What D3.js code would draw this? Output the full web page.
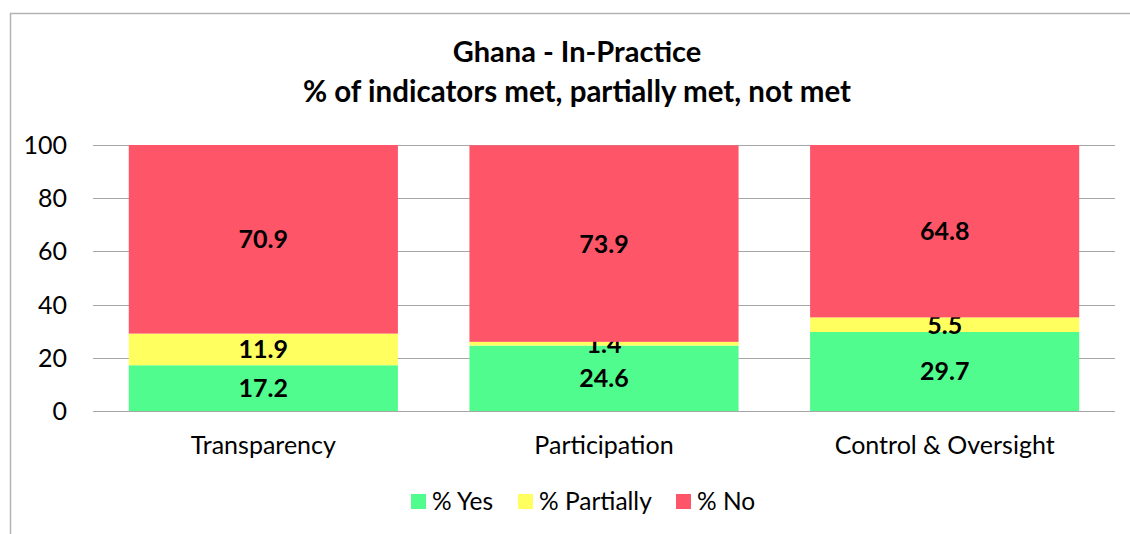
<!DOCTYPE html>
<html>
<head>
<meta charset="utf-8">
<script src="https://cdn.jsdelivr.net/npm/d3@7"></script>
<style>
  body { margin: 0; background: #fff; }
  svg { font-family: Lato, "Open Sans", sans-serif; }
</style>
</head>
<body>
<div id="chart"></div>
<script>
const categories = ['Transparency', 'Participation', 'Control & Oversight'];
const yesValues = [17.2, 24.6, 29.7];
const partialValues = [11.9, 1.4, 5.5];
const noValues = [70.9, 73.9, 64.8];
const seriesNames = ['% Yes', '% Partially', '% No'];
const seriesColors = ['#50fc8e', '#ffff5f', '#ff5568'];
const yTicks = [0, 20, 40, 60, 80, 100];

const width = 1130;
const height = 534;

const svg = d3.select('#chart')
  .append('svg')
    .attr('width', width)
    .attr('height', height);

// chart frame
svg.append('rect')
  .attr('x', 10.5).attr('y', 13.5)
  .attr('width', 1140).attr('height', 540)
  .attr('fill', 'none')
  .attr('stroke', '#b4b4b4')
  .attr('stroke-width', 1.5);

svg.append('text')
  .attr('x', 577).attr('y', 62)
  .attr('text-anchor', 'middle')
  .style('font-size', '29px').style('font-weight', 'bold')
  .text('Ghana - In-Practice');
svg.append('text')
  .attr('x', 577).attr('y', 102)
  .attr('text-anchor', 'middle')
  .style('font-size', '29.5px').style('font-weight', 'bold')
  .text('% of indicators met, partially met, not met');

const x = d3.scaleBand()
  .domain(categories)
  .range([93, 1115])
  .paddingInner(0.21)
  .paddingOuter(0.105);

const y = d3.scaleLinear()
  .domain([0, 100])
  .range([411, 145]);

// gridlines
svg.append('g')
  .selectAll('line')
  .data(yTicks)
  .enter()
  .append('line')
    .attr('x1', 93).attr('x2', 1115)
    .attr('y1', d => Math.round(y(d)) + 0.5)
    .attr('y2', d => Math.round(y(d)) + 0.5)
    .attr('stroke', '#a6a6a6')
    .attr('stroke-width', 1.2);

svg.append('g')
  .selectAll('text')
  .data(yTicks)
  .enter()
  .append('text')
    .attr('x', 67)
    .attr('y', d => y(d))
    .attr('dy', '0.36em')
    .attr('text-anchor', 'end')
    .style('font-size', '25px')
    .text(d => d);

const rows = categories.map((c, i) => ({
  category: c, yes: yesValues[i], partial: partialValues[i], no: noValues[i]
}));
const stack = d3.stack().keys(['yes', 'partial', 'no'])(rows);

const layers = svg.append('g')
  .selectAll('g')
  .data(stack)
  .enter()
  .append('g')
    .attr('fill', (d, i) => seriesColors[i]);

layers.selectAll('rect')
  .data(d => d)
  .enter()
  .append('rect')
    .attr('x', d => x(d.data.category))
    .attr('width', x.bandwidth())
    .attr('y', d => y(d[1]))
    .attr('height', d => y(d[0]) - y(d[1]));

layers.selectAll('text')
  .data(d => d)
  .enter()
  .append('text')
    .attr('x', d => x(d.data.category) + x.bandwidth() / 2)
    .attr('y', d => (y(d[0]) + y(d[1])) / 2)
    .attr('dy', '0.36em')
    .attr('text-anchor', 'middle')
    .attr('fill', '#000')
    .style('font-size', '25px').style('font-weight', 'bold')
    .text(d => (d[1] - d[0]).toFixed(1));

// baseline axis
svg.append('line')
  .attr('x1', 93).attr('x2', 1115)
  .attr('y1', 411.5).attr('y2', 411.5)
  .attr('stroke', '#a6a6a6').attr('stroke-width', 1.2);

svg.append('g')
  .selectAll('text')
  .data(categories)
  .enter()
  .append('text')
    .attr('x', d => x(d) + x.bandwidth() / 2)
    .attr('y', 454)
    .attr('text-anchor', 'middle')
    .style('font-size', '25px')
    .text(d => d);

// legend
const legendX = [411, 518, 676];
const legend = svg.append('g')
  .selectAll('g')
  .data(seriesNames)
  .enter()
  .append('g')
    .attr('transform', (d, i) => `translate(${legendX[i]},494)`);
legend.append('rect')
  .attr('width', 15).attr('height', 15)
  .attr('fill', (d, i) => seriesColors[i]);
legend.append('text')
  .attr('x', 21).attr('y', 7.5)
  .attr('dy', '0.36em')
  .style('font-size', '24.5px')
  .text(d => d);
</script>
</body>
</html>
